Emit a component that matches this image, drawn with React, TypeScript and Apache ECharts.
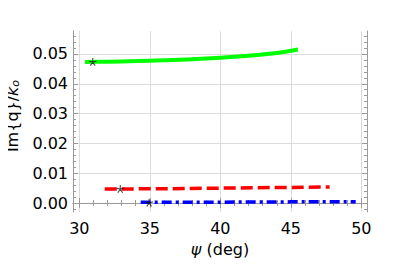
import React, { useEffect, useRef } from "react";
import * as echarts from "echarts";

const X_MIN = 29.55;
const X_MAX = 50.4;
const Y_MIN = -0.003;
const Y_MAX = 0.0577;

const xMajor = [30, 35, 40, 45, 50];
const xMinor = [30, 31, 32, 33, 34, 35, 36, 37, 38, 39, 40, 41, 42, 43, 44, 45, 46, 47, 48, 49, 50];
const yMajor = [0, 0.01, 0.02, 0.03, 0.04, 0.05];
const yMinor = [
  -0.002, 0, 0.002, 0.004, 0.006, 0.008, 0.01, 0.012, 0.014, 0.016, 0.018, 0.02, 0.022, 0.024,
  0.026, 0.028, 0.03, 0.032, 0.034, 0.036, 0.038, 0.04, 0.042, 0.044, 0.046, 0.048, 0.05, 0.052,
  0.054, 0.056,
];

const greenSeries: [number, number][] = [
  [30.4, 0.0473],
  [32, 0.0474],
  [34, 0.0476],
  [36, 0.0479],
  [38, 0.0482],
  [40, 0.0487],
  [42, 0.0494],
  [44, 0.0503],
  [45.5, 0.0515],
];
const redSeries: [number, number][] = [
  [31.8, 0.0047],
  [36, 0.0048],
  [40, 0.0050],
  [44, 0.0052],
  [47.75, 0.0054],
];
const blueSeries: [number, number][] = [
  [34.35, 0.0003],
  [40, 0.0003],
  [45, 0.0004],
  [49.6, 0.0004],
];
const starPoints: [number, number][] = [
  [30.95, 0.0473],
  [32.9, 0.0047],
  [34.95, 0.0001],
];

function asteriskPath(): string {
  const r = 5;
  const w = 1.3;
  let d = "";
  for (let i = 0; i < 5; i++) {
    const a = -Math.PI / 2 + (i * 2 * Math.PI) / 5;
    const dx = Math.cos(a), dy = Math.sin(a);
    const px = -dy * (w / 2), py = dx * (w / 2);
    const pts = [
      [px, py],
      [r * dx + px, r * dy + py],
      [r * dx - px, r * dy - py],
      [-px, -py],
    ];
    d += "M" + pts.map((p) => p[0].toFixed(3) + "," + p[1].toFixed(3)).join("L") + "Z";
  }
  return "path://" + d;
}

const FRAME = "#9a9a9a";
const GRID = "#dcdcdc";
const FONT = "DejaVu Sans";

export default function App() {
  const ref = useRef<HTMLDivElement>(null);
  useEffect(() => {
    if (!ref.current) return;
    const chart = echarts.init(ref.current, undefined, { renderer: "svg" });
    const xAxisBase = { type: "value", min: X_MIN, max: X_MAX, gridIndex: 0 };
    const yAxisBase = { type: "value", min: Y_MIN, max: Y_MAX, gridIndex: 0 };
    chart.setOption({
      animation: false,
      grid: { left: 73, right: 31, top: 31, bottom: 60, containLabel: false },
      xAxis: [
        {
          ...xAxisBase,
          position: "bottom",
          axisLine: { show: true, lineStyle: { color: FRAME, width: 1 } },
          axisTick: { show: true, inside: true, length: 5, customValues: xMajor, lineStyle: { color: FRAME } },
          axisLabel: { show: true, customValues: xMajor, fontSize: 16, fontFamily: FONT, color: "#000", margin: 8 },
          splitLine: { show: true, lineStyle: { color: GRID, width: 1 } },
        },
        {
          ...xAxisBase,
          position: "bottom",
          axisLine: { show: false },
          axisTick: { show: true, inside: true, length: 3, customValues: xMinor, lineStyle: { color: FRAME } },
          axisLabel: { show: false },
          splitLine: { show: false },
        },
        {
          ...xAxisBase,
          position: "top",
          axisLine: { show: true, lineStyle: { color: FRAME, width: 1 } },
          axisTick: { show: true, inside: true, length: 5, customValues: xMajor, lineStyle: { color: FRAME } },
          axisLabel: { show: false },
          splitLine: { show: false },
        },
        {
          ...xAxisBase,
          position: "top",
          axisLine: { show: false },
          axisTick: { show: true, inside: true, length: 3, customValues: xMinor, lineStyle: { color: FRAME } },
          axisLabel: { show: false },
          splitLine: { show: false },
        },
      ],
      yAxis: [
        {
          ...yAxisBase,
          position: "left",
          axisLine: { show: true, lineStyle: { color: FRAME, width: 1 } },
          axisTick: { show: true, inside: true, length: 5, customValues: yMajor, lineStyle: { color: FRAME } },
          axisLabel: {
            show: true,
            customValues: yMajor,
            fontSize: 16,
            fontFamily: FONT,
            color: "#000",
            margin: 5,
            formatter: (v: number) => v.toFixed(2),
          },
          splitLine: { show: true, lineStyle: { color: GRID, width: 1 } },
        },
        {
          ...yAxisBase,
          position: "left",
          axisLine: { show: false },
          axisTick: { show: true, inside: true, length: 3, customValues: yMinor, lineStyle: { color: FRAME } },
          axisLabel: { show: false },
          splitLine: { show: false },
        },
        {
          ...yAxisBase,
          position: "right",
          axisLine: { show: true, lineStyle: { color: FRAME, width: 1 } },
          axisTick: { show: true, inside: true, length: 5, customValues: yMajor, lineStyle: { color: FRAME } },
          axisLabel: { show: false },
          splitLine: { show: false },
        },
        {
          ...yAxisBase,
          position: "right",
          axisLine: { show: false },
          axisTick: { show: true, inside: true, length: 3, customValues: yMinor, lineStyle: { color: FRAME } },
          axisLabel: { show: false },
          splitLine: { show: false },
        },
      ],
      series: [
        {
          type: "line",
          data: greenSeries,
          xAxisIndex: 0,
          yAxisIndex: 0,
          showSymbol: false,
          smooth: 0.3,
          lineStyle: { color: "#00ff00", width: 4 },
          z: 3,
        },
        {
          type: "line",
          data: redSeries,
          xAxisIndex: 0,
          yAxisIndex: 0,
          showSymbol: false,
          lineStyle: { color: "#ff0000", width: 3.5, type: [12, 5] },
          z: 3,
        },
        {
          type: "line",
          data: blueSeries,
          xAxisIndex: 0,
          yAxisIndex: 0,
          showSymbol: false,
          lineStyle: { color: "#0000ff", width: 3.5, type: [10, 4, 3, 4] },
          z: 3,
        },
        {
          type: "scatter",
          data: starPoints,
          xAxisIndex: 0,
          yAxisIndex: 0,
          symbol: asteriskPath(),
          symbolSize: 8,
          itemStyle: { color: "#111" },
          z: 5,
        },
      ],
      graphic: [
        {
          type: "text",
          x: 12,
          y: 116,
          rotation: Math.PI / 2,
          style: {
            text: "Im{q}/{k|k}{o|o}",
            fontSize: 16,
            fontFamily: FONT,
            fill: "#000",
            align: "center",
            verticalAlign: "middle",
            rich: {
              k: { fontSize: 16, fontStyle: "italic", fontFamily: FONT, fill: "#000" },
              o: { fontSize: 11, fontStyle: "italic", fontFamily: FONT, fill: "#000", verticalAlign: "bottom", padding: [6, 0, 0, 0] },
            },
          },
        },
        {
          type: "text",
          x: 220,
          y: 249,
          style: {
            text: "{p|ψ} (deg)",
            fontSize: 16,
            fontFamily: FONT,
            fill: "#000",
            align: "center",
            verticalAlign: "middle",
            rich: {
              p: { fontSize: 16, fontStyle: "italic", fontFamily: FONT, fill: "#000" },
            },
          },
        },
      ],
    });
    return () => chart.dispose();
  }, []);
  return <div ref={ref} style={{ width: 398, height: 272, margin: -8 }} />;
}
